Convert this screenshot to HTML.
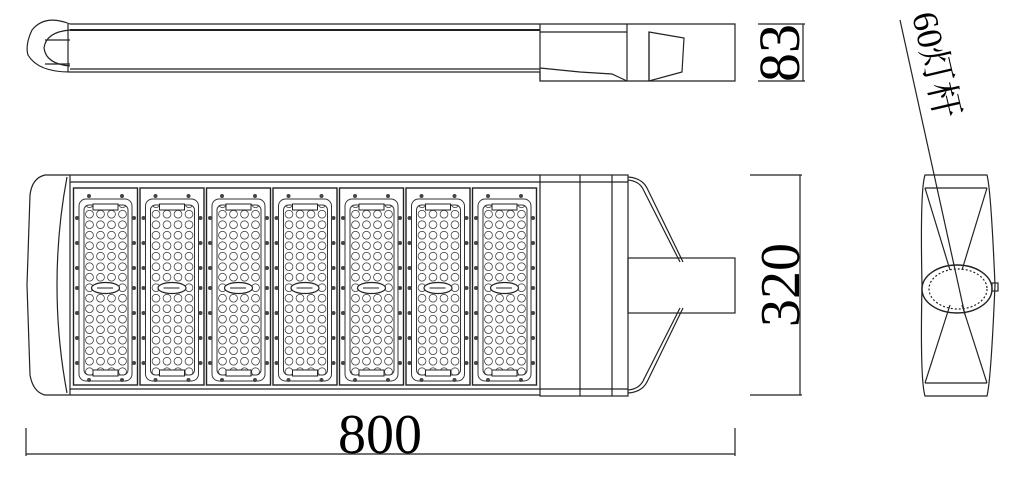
<!DOCTYPE html>
<html><head><meta charset="utf-8"><style>
html,body{margin:0;padding:0;background:#fff;width:1024px;height:480px;overflow:hidden}
svg{display:block}
text{font-family:"Liberation Serif","Noto Serif CJK SC",serif;fill:#000}
</style></head><body>
<svg width="1024" height="480" viewBox="0 0 1024 480" xmlns="http://www.w3.org/2000/svg">
<defs>
<pattern id="led" x="0" y="0" width="11" height="10.5" patternUnits="userSpaceOnUse">
<circle cx="5.5" cy="5.2" r="3.9" fill="none" stroke="#444" stroke-width="0.8"/>
</pattern>
<g id="mod">
<rect x="0.5" y="0" width="64" height="197" fill="none" stroke="#222" stroke-width="1.4"/>
<rect x="6" y="11" width="53" height="182" rx="7" fill="none" stroke="#333" stroke-width="1"/>
<rect x="11" y="17" width="44" height="170" rx="5" fill="url(#led)" stroke="#333" stroke-width="1"/>
<rect x="20" y="16" width="25" height="6" fill="#fff" stroke="#222" stroke-width="1"/>
<rect x="20" y="182" width="25" height="6" fill="#fff" stroke="#222" stroke-width="1"/>
<ellipse cx="32.5" cy="100" rx="14" ry="5.5" fill="#fff" stroke="#222" stroke-width="1.2"/>
<line x1="24" y1="100" x2="40" y2="100" stroke="#222" stroke-width="1"/>
<g fill="#444">
<circle cx="4" cy="30" r="2"/><circle cx="61" cy="30" r="2"/>
<circle cx="4" cy="55" r="2"/><circle cx="61" cy="55" r="2"/>
<circle cx="4" cy="80" r="2"/><circle cx="61" cy="80" r="2"/>
<circle cx="4" cy="100" r="2"/><circle cx="61" cy="100" r="2"/>
<circle cx="4" cy="125" r="2"/><circle cx="61" cy="125" r="2"/>
<circle cx="4" cy="150" r="2"/><circle cx="61" cy="150" r="2"/>
<circle cx="4" cy="175" r="2"/><circle cx="61" cy="175" r="2"/>
<circle cx="16" cy="8" r="2"/><circle cx="49" cy="8" r="2"/>
<circle cx="16" cy="192" r="2"/><circle cx="49" cy="192" r="2"/>
</g>
</g>
</defs>
<g fill="none" stroke="#222" stroke-width="1.2">
<path d="M70,24 L735,24 L735,81 L540,81 L540,72 L70,72"/>
<line x1="70" y1="30" x2="540" y2="30" stroke-width="2"/>
<line x1="70" y1="69" x2="540" y2="69"/>
<line x1="540" y1="24" x2="540" y2="81"/>
<line x1="540" y1="32" x2="627" y2="32"/>
<line x1="627" y1="24" x2="627" y2="81"/>
<path d="M649,32 L684,38 L682,72 L649,81 Z"/>
<line x1="649" y1="32" x2="649" y2="81"/>
<path d="M540,68 L580,72 L612,74 L627,81"/>
<path d="M70,24 Q45,14 32,30 Q25,45 28,55 Q38,72 70,72"/>
<path d="M70,30 Q46,32 44,48 Q46,64 70,66"/>
<line x1="68" y1="24" x2="68" y2="72"/>
<line x1="45" y1="40" x2="70" y2="40"/><line x1="45" y1="64" x2="70" y2="64"/>
<line x1="803" y1="24" x2="803" y2="81"/>
<line x1="758" y1="24" x2="805" y2="24"/><line x1="758" y1="81" x2="805" y2="81"/>
<path d="M70,175 L540,175 M70,395 L540,395"/>
<line x1="70" y1="182" x2="540" y2="182"/>
<line x1="70" y1="389" x2="540" y2="389"/>
<path d="M70,175 L45,175 Q32,178 30,195 L27,285 L30,375 Q33,392 45,395 L70,395"/>
<path d="M67,177 Q57,230 57,285 Q57,340 67,393"/>
<line x1="70" y1="175" x2="70" y2="395"/>
<rect x="540" y="175" width="88" height="221"/>
<line x1="580" y1="175" x2="580" y2="396"/>
<line x1="612" y1="175" x2="612" y2="396"/>
<line x1="540" y1="182" x2="628" y2="182"/>
<line x1="540" y1="389" x2="628" y2="389"/>
<path d="M628,177 Q642,178 647,188 L683,262"/>
<path d="M628,180 Q640,181 644,191 L680,262"/>
<path d="M683,308 L647,382 Q642,392 628,393"/>
<path d="M680,308 L644,379 Q640,389 628,390"/>
<rect x="628" y="258" width="107" height="55"/>
<line x1="800" y1="175" x2="800" y2="395"/>
<line x1="750" y1="175" x2="802" y2="175"/><line x1="750" y1="395" x2="802" y2="395"/>
<path d="M925,175 L987,175 Q991,190 995,285 Q991,380 987,396 L925,396 Q920,380 922,285 Q920,190 925,175 Z"/>
<line x1="925" y1="188" x2="987" y2="188"/>
<line x1="925" y1="383" x2="987" y2="383"/>
<path d="M925,188 L950,270 M987,188 L962,270 M925,383 L950,305 M987,383 L962,305"/>
<ellipse cx="957" cy="289" rx="35" ry="24" stroke-width="1.4"/>
<ellipse cx="958" cy="289" rx="29" ry="20" stroke-dasharray="2 2"/>
<rect x="992" y="283" width="6" height="8"/>
<line x1="900" y1="20" x2="965" y2="315"/>
<line x1="26" y1="454" x2="735" y2="454"/>
<line x1="26" y1="428" x2="26" y2="456"/><line x1="735" y1="428" x2="735" y2="456"/>
</g>
<use href="#mod" x="73" y="188"/>
<use href="#mod" x="139.5" y="188"/>
<use href="#mod" x="206" y="188"/>
<use href="#mod" x="272.5" y="188"/>
<use href="#mod" x="339" y="188"/>
<use href="#mod" x="405.5" y="188"/>
<use href="#mod" x="472" y="188"/>
<text x="0" y="0" font-size="58" text-anchor="middle" transform="translate(799,53) rotate(-90)">83</text>
<text x="0" y="0" font-size="56" text-anchor="middle" transform="translate(799,285) rotate(-90)">320</text>
<text x="380" y="453" font-size="56" text-anchor="middle">800</text>
<text x="0" y="0" font-size="36" transform="translate(912,15) rotate(77)">60灯杆</text>
</svg>
</body></html>
